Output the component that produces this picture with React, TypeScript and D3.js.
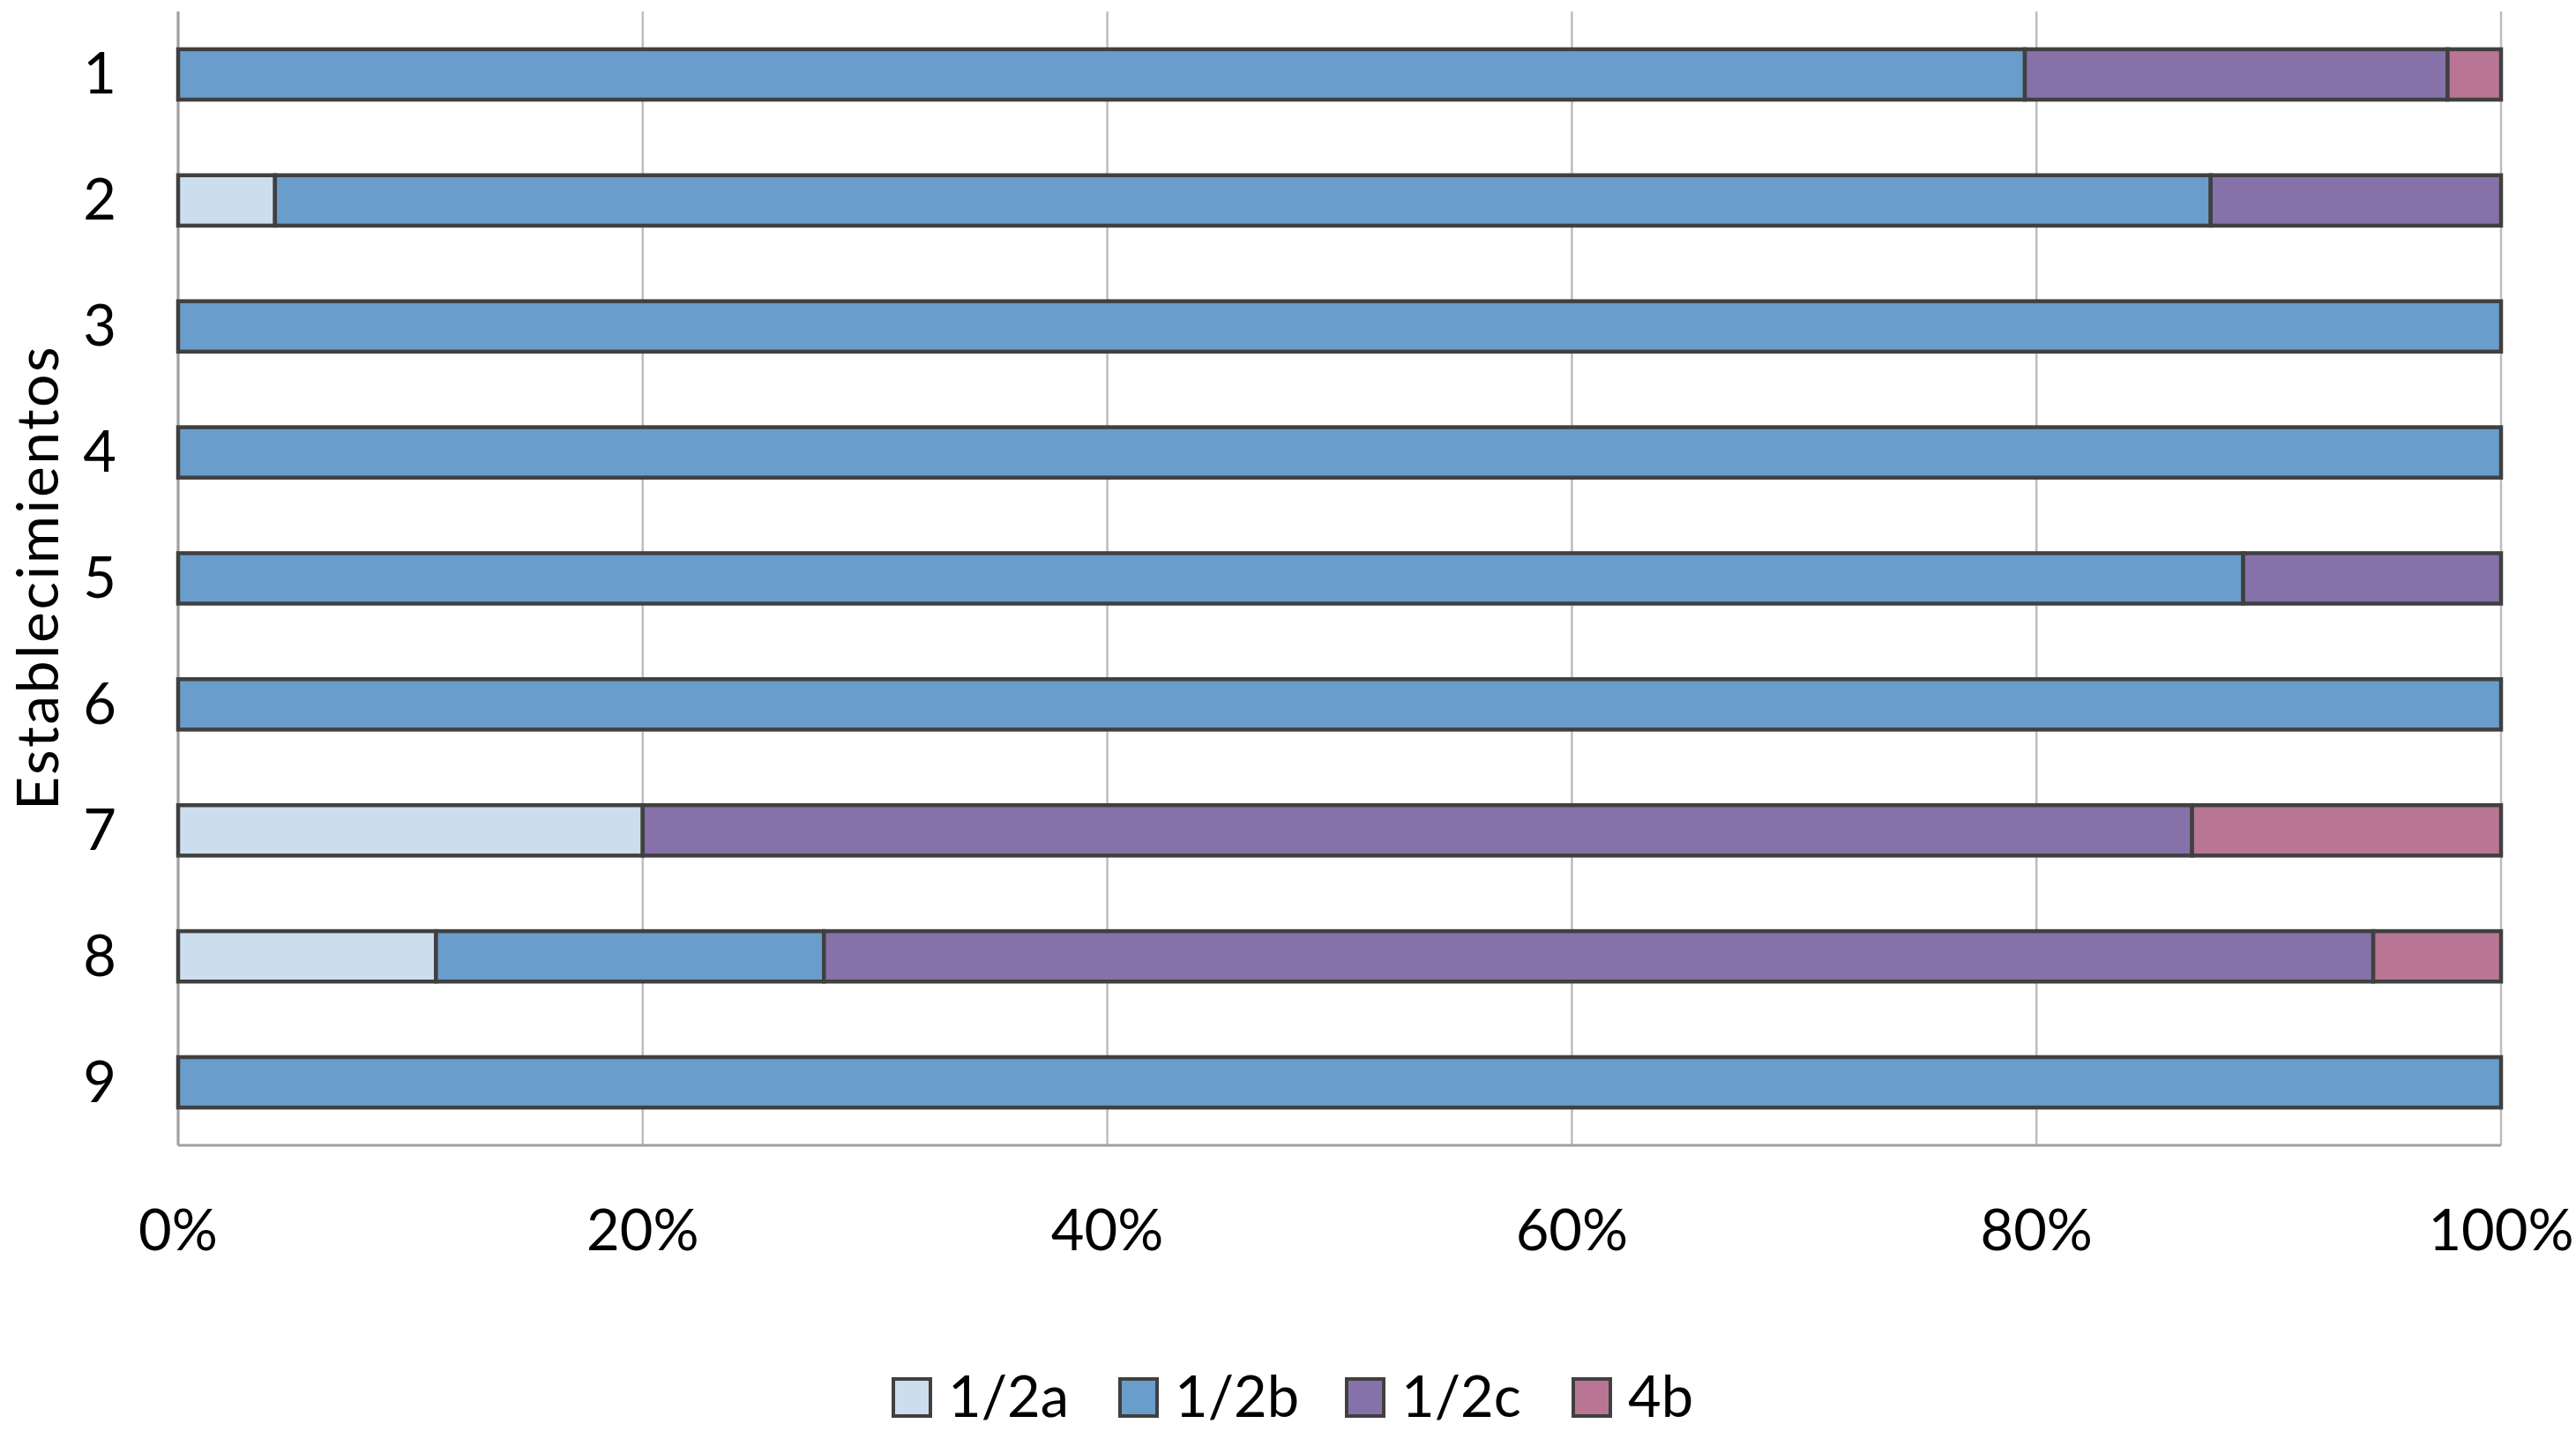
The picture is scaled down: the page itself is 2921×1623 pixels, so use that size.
import React from "react";
import * as d3 from "d3";

const categories = ["1", "2", "3", "4", "5", "6", "7", "8", "9"];
const seriesNames = ["1/2a", "1/2b", "1/2c", "4b"];
const s12a = [0, 4.17, 0, 0, 0, 0, 20.0, 11.1, 0];
const s12b = [79.5, 83.33, 100, 100, 88.9, 100, 0, 16.7, 100];
const s12c = [18.2, 12.5, 0, 0, 11.1, 0, 66.7, 66.7, 0];
const s4b = [2.3, 0, 0, 0, 0, 0, 13.3, 5.5, 0];
const xTicks = [0, 20, 40, 60, 80, 100];
const colors = ["#CCDDED", "#6A9DCB", "#8672A8", "#B87594"];
const yTitle = "Establecimientos";

const W = 2921;
const H = 1623;
const FONT = "Lato, 'Open Sans', sans-serif";

export default function App() {
  const left = 202;
  const right = 2836;
  const top = 13;
  const bottom = 1299;

  const x = d3.scaleLinear().domain([0, 100]).range([left, right]);
  const y = d3.scaleBand<string>().domain(categories).range([top, bottom]).paddingInner(0.6).paddingOuter(0.3);

  const rows = categories.map((c, i) => ({
    cat: c,
    "1/2a": s12a[i],
    "1/2b": s12b[i],
    "1/2c": s12c[i],
    "4b": s4b[i],
  }));
  const stack = d3.stack<any>().keys(seriesNames)(rows);

  const legendX = d3.scaleLinear().domain([0, 1]).range([1013, 1270]);

  return (
    <svg width={W} height={H} style={{ position: "absolute", left: 0, top: 0, background: "#fff" }}>
      <rect x={0} y={0} width={W} height={H} fill="#fff" />
      {/* gridlines */}
      {xTicks.map((t) => (
        <line key={"g" + t} x1={x(t)} x2={x(t)} y1={top} y2={bottom} stroke="#BDBDBD" strokeWidth={2.5} />
      ))}
      {/* axes */}
      <line x1={left} x2={left} y1={top} y2={bottom} stroke="#A0A0A0" strokeWidth={3} />
      <line x1={left} x2={right} y1={bottom} y2={bottom} stroke="#A0A0A0" strokeWidth={3} />
      {/* bars */}
      {stack.map((layer, si) => (
        <g key={layer.key}>
          {layer.map((d, i) =>
            d[1] - d[0] > 0 ? (
              <rect
                key={i}
                x={x(d[0])}
                y={y(categories[i])!}
                width={x(d[1]) - x(d[0])}
                height={y.bandwidth()}
                fill={colors[si]}
                stroke="#404040"
                strokeWidth={4.5}
              />
            ) : null
          )}
        </g>
      ))}
      {/* y labels */}
      {categories.map((c) => (
        <text
          key={"y" + c}
          x={132}
          y={y(c)! + y.bandwidth() / 2 + 22}
          textAnchor="end"
          fontFamily={FONT}
          fontSize={65}
          fill="#000"
        >
          {c}
        </text>
      ))}
      {/* x labels */}
      {xTicks.map((t) => (
        <text key={"x" + t} x={x(t)} y={1418} textAnchor="middle" fontFamily={FONT} fontSize={65} fill="#000">
          {t + "%"}
        </text>
      ))}
      {/* y title */}
      <text
        transform={`translate(66, 655) rotate(-90)`}
        textAnchor="middle"
        fontFamily={FONT}
        fontSize={66}
        letterSpacing={2.5}
        fill="#000"
      >
        {yTitle}
      </text>
      {/* legend */}
      {seriesNames.map((s, i) => {
        const lx = legendX(i);
        return (
          <g key={"l" + s}>
            <rect x={lx} y={1564} width={42} height={42} fill={colors[i]} stroke="#404040" strokeWidth={4} />
            <text x={lx + 62} y={1607} fontFamily={FONT} fontSize={65} fill="#000">
              {s}
            </text>
          </g>
        );
      })}
    </svg>
  );
}
